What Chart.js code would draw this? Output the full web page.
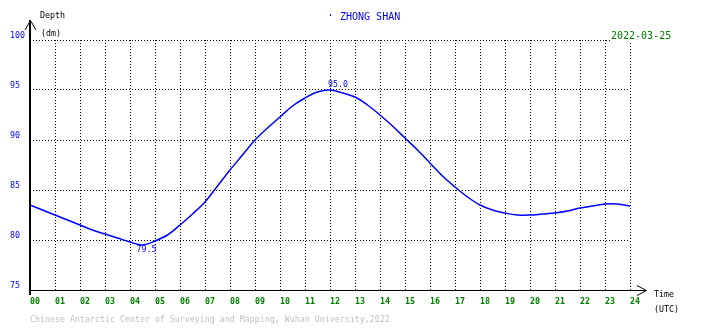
<!DOCTYPE html>
<html>
<head>
<meta charset="utf-8">
<script src="https://cdn.jsdelivr.net/npm/chart.js@4/dist/chart.umd.min.js"></script>
<style>
  html, body { margin: 0; padding: 0; background: #fff; }
  canvas { display: block; }
</style>
</head>
<body>
<canvas id="tide" width="710" height="328"></canvas>
<script>
// tide curve (hour of day, depth in dm)
const hours = [0, 0.5, 1, 1.5, 2, 2.5, 3, 3.5, 4, 4.5, 5, 5.5, 6, 6.5, 7, 7.5, 8, 8.5, 9, 9.5,
  10, 10.5, 11, 11.5, 12, 12.5, 13, 13.5, 14, 14.5, 15, 15.5, 16, 16.5, 17, 17.5, 18, 18.5,
  19, 19.5, 20, 20.5, 21, 21.5, 22, 22.5, 23, 23.5, 24];
const depth = [83.5, 83.0, 82.5, 82.0, 81.5, 81.0, 80.6, 80.2, 79.8, 79.5, 79.9, 80.5, 81.5, 82.6,
  83.8, 85.4, 87.0, 88.5, 90.0, 91.2, 92.3, 93.4, 94.2, 94.8, 95.0, 94.7, 94.3, 93.5, 92.5, 91.4,
  90.2, 89.0, 87.7, 86.4, 85.3, 84.3, 83.5, 83.0, 82.7, 82.5, 82.5, 82.6, 82.7, 82.9, 83.2, 83.4,
  83.6, 83.6, 83.4];
const hourLabels = ['00', '01', '02', '03', '04', '05', '06', '07', '08', '09', '10', '11', '12',
  '13', '14', '15', '16', '17', '18', '19', '20', '21', '22', '23', '24'];
const depthTicks = [75, 80, 85, 90, 95, 100];

const station = 'ZHONG SHAN';
const dateLabel = '2022-03-25';
const footer = 'Chinese Antarctic Center of Surveying and Mapping, Wuhan University,2022';

const MONO = 'DejaVu Sans Mono';
const BLUE = '#0000ff';
const GREEN = '#008000';

// axes with arrows, captions, min/max labels
const decor = {
  id: 'decor',
  beforeDraw(chart) {
    const ctx = chart.ctx;
    ctx.save();
    ctx.fillStyle = '#fff';
    ctx.fillRect(0, 0, chart.width, chart.height);
    ctx.restore();
  },
  afterDraw(chart) {
    const ctx = chart.ctx;
    const { left, right, bottom } = chart.chartArea;
    const xs = chart.scales.x, ys = chart.scales.y;
    ctx.save();

    ctx.strokeStyle = '#000';
    ctx.lineWidth = 2;
    ctx.beginPath();
    ctx.moveTo(left, 20);
    ctx.lineTo(left, bottom + 5);
    ctx.stroke();
    ctx.lineWidth = 1;
    ctx.beginPath();
    ctx.moveTo(left - 5, 30);
    ctx.lineTo(left + 0.5, 20.5);
    ctx.lineTo(left + 6, 30);
    ctx.stroke();

    ctx.beginPath();
    ctx.moveTo(left, bottom + 0.5);
    ctx.lineTo(right + 16, bottom + 0.5);
    ctx.moveTo(right + 7, bottom - 4.5);
    ctx.lineTo(right + 16.5, bottom + 0.5);
    ctx.lineTo(right + 7, bottom + 5.5);
    ctx.stroke();

    ctx.textBaseline = 'middle';
    ctx.textAlign = 'left';
    ctx.font = '8.3px "' + MONO + '"';
    ctx.fillStyle = '#000';
    ctx.fillText('Depth', 40, 16);
    ctx.fillText('(dm)', 41, 34);
    ctx.fillText('Time', 654, 294.5);
    ctx.fillText('(UTC)', 654, 309.5);

    ctx.fillStyle = '#c0c0c0';
    ctx.fillText(footer, 30, 320);

    ctx.font = '10px "' + MONO + '"';
    ctx.fillStyle = BLUE;
    ctx.fillRect(330, 14, 1, 2);
    ctx.fillText(station, 340, 17);

    const w = ctx.measureText(dateLabel).width;
    ctx.fillStyle = '#fff';
    ctx.fillRect(611, 29, w + 2, 12);
    ctx.fillStyle = GREEN;
    ctx.fillText(dateLabel, 611, 36);

    // extreme values
    let hi = 0, lo = 0;
    depth.forEach((v, i) => {
      if (v > depth[hi]) hi = i;
      if (v < depth[lo]) lo = i;
    });
    ctx.font = '8.3px "' + MONO + '"';
    ctx.textAlign = 'center';
    ctx.fillStyle = BLUE;
    ctx.fillText(depth[hi].toFixed(1), xs.getPixelForValue(hours[hi]) + 8, ys.getPixelForValue(depth[hi]) - 5);
    ctx.fillText(depth[lo].toFixed(1), xs.getPixelForValue(hours[lo]) + 4, ys.getPixelForValue(depth[lo]) + 5);

    ctx.restore();
  }
};

new Chart(document.getElementById('tide'), {
  type: 'line',
  data: {
    datasets: [{
      data: hours.map((h, i) => ({ x: h, y: depth[i] })),
      borderColor: BLUE,
      borderWidth: 1.5,
      pointRadius: 0,
      tension: 0.35,
      fill: false
    }]
  },
  options: {
    responsive: false,
    animation: false,
    devicePixelRatio: 1,
    layout: { padding: { left: 10, top: 40, right: 80, bottom: 0 } },
    plugins: { legend: { display: false }, tooltip: { enabled: false } },
    scales: {
      x: {
        type: 'linear',
        min: 0,
        max: 24,
        afterFit: s => { s.height = 38; },
        afterBuildTicks: s => { s.ticks = hourLabels.map((_, i) => ({ value: i })); },
        border: { display: false, dash: [1, 2] },
        grid: { color: '#000', lineWidth: 1, drawTicks: false },
        ticks: {
          autoSkip: false,
          maxRotation: 0,
          padding: 7,
          labelOffset: 5,
          color: GREEN,
          font: { family: MONO, size: 8.3, weight: 'bold' },
          callback: v => hourLabels[v]
        }
      },
      y: {
        min: 75,
        max: 100,
        afterFit: s => { s.width = 20; },
        afterBuildTicks: s => { s.ticks = depthTicks.map(v => ({ value: v })); },
        border: { display: false, dash: [1, 2] },
        grid: { color: '#000', lineWidth: 1, drawTicks: false },
        ticks: {
          crossAlign: 'far',
          labelOffset: -4,
          color: BLUE,
          font: { family: MONO, size: 8.3 },
          callback: v => String(v)
        }
      }
    }
  },
  plugins: [decor]
});
</script>
</body>
</html>
